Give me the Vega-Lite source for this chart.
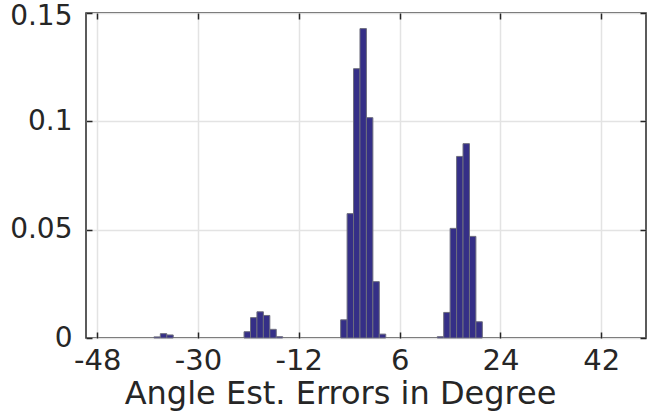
{
  "$schema": "https://vega.github.io/schema/vega-lite/v6.json",
  "width": 560,
  "height": 325,
  "autosize": "none",
  "padding": {"left": 86, "top": 13, "right": 18, "bottom": 77},
  "background": "white",
  "config": {
    "view": {"stroke": "#262626", "strokeWidth": 1.5},
    "font": "DejaVu Sans"
  },
  "data": {
    "values": [
      {"start": -37.875, "end": -36.725, "p": 0.0005},
      {"start": -36.725, "end": -35.575, "p": 0.002},
      {"start": -35.575, "end": -34.425, "p": 0.0014},
      {"start": -21.775, "end": -20.625, "p": 0.0029},
      {"start": -20.625, "end": -19.475, "p": 0.0094},
      {"start": -19.475, "end": -18.325, "p": 0.0121},
      {"start": -18.325, "end": -17.175, "p": 0.0104},
      {"start": -17.175, "end": -16.025, "p": 0.004},
      {"start": -16.025, "end": -14.875, "p": 0.0006},
      {"start": -4.525, "end": -3.375, "p": 0.0084},
      {"start": -3.375, "end": -2.225, "p": 0.0574},
      {"start": -2.225, "end": -1.075, "p": 0.1243},
      {"start": -1.075, "end": 0.075, "p": 0.1428},
      {"start": 0.075, "end": 1.225, "p": 0.1017},
      {"start": 1.225, "end": 2.375, "p": 0.026},
      {"start": 2.375, "end": 3.525, "p": 0.0018},
      {"start": 12.725, "end": 13.875, "p": 0.0006},
      {"start": 13.875, "end": 15.025, "p": 0.0118},
      {"start": 15.025, "end": 16.175, "p": 0.0506},
      {"start": 16.175, "end": 17.325, "p": 0.0838},
      {"start": 17.325, "end": 18.475, "p": 0.0897},
      {"start": 18.475, "end": 19.625, "p": 0.0469},
      {"start": 19.625, "end": 20.775, "p": 0.0075}
    ]
  },
  "layer": [
    {
      "mark": {"type": "bar", "fill": "#352f87", "stroke": "#6e6e7e", "strokeWidth": 1},
      "encoding": {
        "x": {
          "field": "start", "type": "quantitative",
          "scale": {"domain": [-50, 50], "nice": false, "zero": false},
          "axis": {
            "orient": "bottom",
            "values": [-48, -30, -12, 6, 24, 42],
            "labelExpr": "'' + datum.value",
            "title": "Angle Est. Errors in Degree",
            "titleFont": "DejaVu Sans", "titleFontSize": 32, "titleFontWeight": "normal", "titleColor": "#262626",
            "titleX": 254, "titleAlign": "center",
            "titlePadding": 3,
            "labelFont": "DejaVu Sans", "labelFontSize": 29, "labelColor": "#262626",
            "labelPadding": 14,
            "tickSize": -6, "tickColor": "#262626", "tickWidth": 1.5,
            "domain": false,
            "grid": true, "gridColor": "#e3e3e3", "gridWidth": 1.5
          }
        },
        "x2": {"field": "end"},
        "y": {
          "field": "p", "type": "quantitative",
          "scale": {"domain": [0, 0.15], "nice": false},
          "axis": {
            "orient": "left",
            "values": [0, 0.05, 0.1, 0.15],
            "labelExpr": "format(datum.value, '~g')",
            "title": null,
            "labelFont": "DejaVu Sans", "labelFontSize": 28, "labelColor": "#262626",
            "labelPadding": 20,
            "labelOffset": {"condition": {"test": "datum.value >= 0.14", "value": 3}, "value": 0},
            "tickSize": -6, "tickColor": "#262626", "tickWidth": 1.5,
            "domain": false,
            "grid": true, "gridColor": "#e3e3e3", "gridWidth": 1.5
          }
        },
        "y2": {"datum": 0}
      }
    },
    {
      "mark": {"type": "bar", "opacity": 0},
      "encoding": {
        "x": {
          "field": "start", "type": "quantitative",
          "axis": {"orient": "top", "values": [-48, -30, -12, 6, 24, 42], "labels": false, "title": null, "domain": false, "grid": false, "tickSize": -6, "tickColor": "#262626", "tickWidth": 1.5}
        },
        "x2": {"field": "end"},
        "y": {
          "field": "p", "type": "quantitative",
          "axis": {"orient": "right", "values": [0, 0.05, 0.1, 0.15], "labels": false, "title": null, "domain": false, "grid": false, "tickSize": -6, "tickColor": "#262626", "tickWidth": 1.5}
        },
        "y2": {"datum": 0}
      }
    }
  ],
  "resolve": {"axis": {"x": "independent", "y": "independent"}}
}
